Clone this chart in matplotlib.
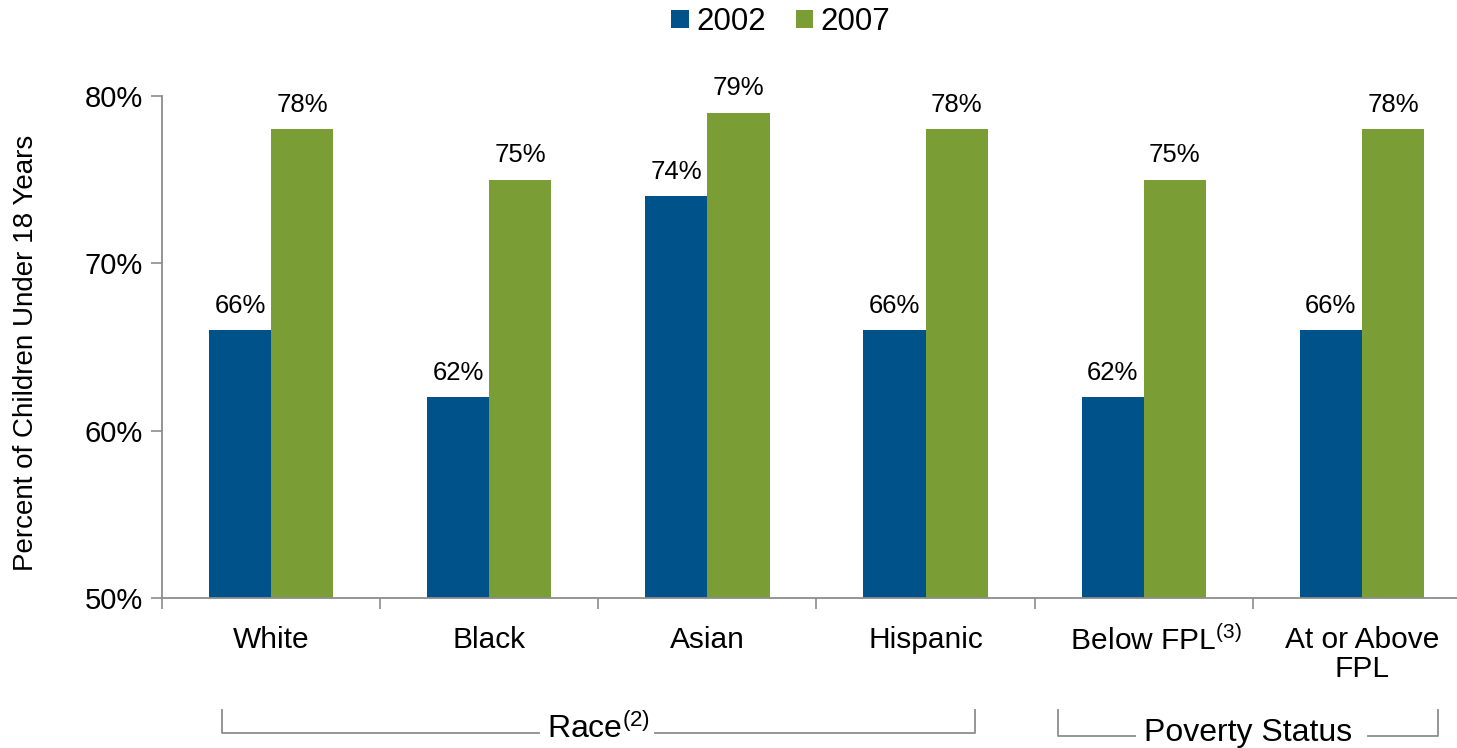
import numpy as np
import matplotlib.pyplot as plt
from matplotlib.transforms import blended_transform_factory

plt.rcParams['font.family'] = ['Liberation Sans', 'DejaVu Sans']
plt.rcParams['mathtext.fontset'] = 'custom'
plt.rcParams['mathtext.rm'] = 'Liberation Sans'
plt.rcParams['mathtext.it'] = 'Liberation Sans'

categories = ['White', 'Black', 'Asian', 'Hispanic', '   Below FPL$^{(3)}$', 'At or Above\nFPL']
v2002 = [66, 62, 74, 66, 62, 66]
v2007 = [78, 75, 79, 78, 75, 78]

blue = '#00538a'
green = '#7a9e35'
grey = '#8c8c8c'

fig = plt.figure(figsize=(14.57, 7.48), dpi=100)
ax = fig.add_axes([162/1457, 1-598/748, 1309/1457, 502/748])

x = np.arange(len(categories))
w = 0.285
b1 = ax.bar(x - w/2, np.array(v2002) - 50, w, bottom=50, color=blue, label='2002')
b2 = ax.bar(x + w/2, np.array(v2007) - 50, w, bottom=50, color=green, label='2007')

for xi, v in zip(x - w/2, v2002):
    ax.annotate(f'{v}%', (xi, v), xytext=(0, 9), textcoords='offset points',
                ha='center', va='bottom', fontsize=18.5)
for xi, v in zip(x + w/2, v2007):
    ax.annotate(f'{v}%', (xi, v), xytext=(0, 9), textcoords='offset points',
                ha='center', va='bottom', fontsize=18.5)

ax.set_xlim(-0.5, 5.5)
ax.set_ylim(50, 80)
ax.set_yticks([50, 60, 70, 80])
ax.set_yticklabels(['50%', '60%', '70%', '80%'], fontsize=21)
ax.set_xticks(np.arange(-0.5, 6, 1))
ax.set_xticklabels([])
ax.set_xticks(x, minor=True)
ax.set_xticklabels(categories, minor=True, fontsize=21.5, va='top', linespacing=1.05)
ax.tick_params(axis='x', which='minor', length=0, pad=20)
ax.tick_params(axis='x', which='major', length=8, direction='out', color=grey, width=1.2)
ax.tick_params(axis='y', length=8, direction='out', color=grey, width=1.2, pad=6)
for s in ['top', 'right']:
    ax.spines[s].set_visible(False)
for s in ['left', 'bottom']:
    ax.spines[s].set_color(grey)
    ax.spines[s].set_linewidth(1.3)

ax.set_ylabel('Percent of Children Under 18 Years', fontsize=20)
ax.yaxis.set_label_coords(-0.094, 0.488)

# group brackets under the categories
tr = blended_transform_factory(ax.transData, fig.transFigure)
def fy(p):
    return 1 - p/748
ax.plot([-0.225, -0.225, 1.23], [fy(710), fy(733), fy(733)], color=grey, lw=1.3,
        transform=tr, clip_on=False)
ax.plot([1.76, 3.225, 3.225], [fy(733), fy(733), fy(710)], color=grey, lw=1.3,
        transform=tr, clip_on=False)
ax.text(1.5, fy(729), 'Race$^{(2)}$', transform=tr, ha='center', va='center', fontsize=23)
ax.plot([3.606, 3.606, 3.96], [fy(710), fy(736), fy(736)], color=grey, lw=1.3,
        transform=tr, clip_on=False)
ax.plot([5.03, 5.348, 5.348], [fy(736), fy(736), fy(710)], color=grey, lw=1.3,
        transform=tr, clip_on=False)
ax.text(4.48, fy(733), 'Poverty Status', transform=tr, ha='center', va='center', fontsize=23)

fig.legend(handles=[b1, b2], labels=['2002', '2007'], loc='center',
           bbox_to_anchor=(0.536, 1 - 22/748), ncol=2, frameon=False, fontsize=22.5,
           handlelength=0.55, handleheight=0.55, handletextpad=0.25, columnspacing=0.95)

fig.savefig('out.png', dpi=100)
